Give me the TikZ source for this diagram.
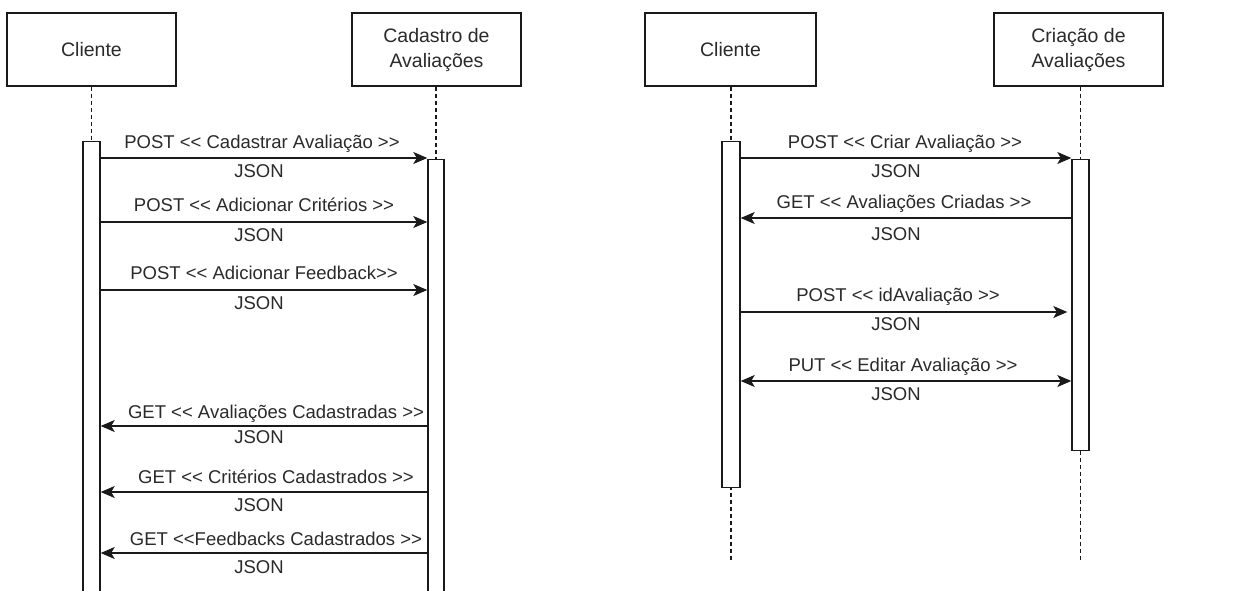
\documentclass[tikz,border=0pt]{standalone}
\usepackage{fontspec}
\setmainfont{Liberation Sans}
\usetikzlibrary{arrows.meta}
\definecolor{txt}{HTML}{2A2A2A}
\definecolor{ln}{HTML}{1A1A1A}
\newcommand\lla{<\kern0pt<}
\newcommand\gga{>\kern0pt>}
\tikzset{
  actorbox/.style={draw=ln, line width=1.4pt, minimum width=169pt, minimum height=73pt, inner sep=0pt, align=center, text=txt, font=\fontsize{19.5}{25}\selectfont},
  actbar/.style={draw=ln, fill=white, line width=1.4pt, inner sep=0pt, anchor=north},
  life/.style={draw=ln, line width=1.2pt, dash pattern=on 4pt off 3pt},
  msg/.style={draw=ln, line width=1.4pt, -{Stealth[length=14pt,width=12pt,inset=3.5pt]}},
  dmsg/.style={draw=ln, line width=1.4pt, {Stealth[length=14pt,width=12pt,inset=3.5pt]}-{Stealth[length=14pt,width=12pt,inset=3.5pt]}},
  lbl/.style={text=txt, inner sep=0pt, anchor=base, font=\fontsize{18.5}{21}\selectfont},
}
\begin{document}
\begin{tikzpicture}[x=1pt,y=-1pt]
\useasboundingbox (0,0) rectangle (1252,590);
\clip (0,0) rectangle (1252,590);
\fill[white] (0,0) rectangle (1252,590);

% ---------- left diagram ----------
\node[actorbox] (cl1) at (91.5,49.5) {Cliente};
\node[actorbox] (cad) at (436.5,49.5) {Cadastro de\\Avaliações};
\coordinate (cl1end) at (91.5,600);
\coordinate (cadend) at (436,600);
\draw[life] (cl1.south) -- (cl1end);
\draw[life] (cad.south -| cadend) -- (cadend);
\node[actbar, minimum width=17pt, minimum height=460pt] (cl1b) at (91.5,141) {};
\node[actbar, minimum width=16pt, minimum height=442pt] (cadb) at (436,159) {};

\draw[msg] (cl1b.east |- 0,158) -- (cadb.west |- 0,158);
\node[lbl] (m1) at (262,148) {POST \lla{} Cadastrar Avaliação \gga};
\node[lbl] (j1) at (259,177) {JSON};

\draw[msg] (cl1b.east |- 0,222) -- (cadb.west |- 0,222);
\node[lbl] (m2) at (264,211) {POST \lla{} Adicionar Critérios \gga};
\node[lbl] (j2) at (259,241) {JSON};

\draw[msg] (cl1b.east |- 0,290) -- (cadb.west |- 0,290);
\node[lbl] (m3) at (264,279) {POST \lla{} Adicionar Feedback\gga};
\node[lbl] (j3) at (259,309) {JSON};

\draw[msg] (cadb.west |- 0,426) -- (cl1b.east |- 0,426);
\node[lbl] (m4) at (276,418) {GET \lla{} Avaliações Cadastradas \gga};
\node[lbl] (j4) at (259,443) {JSON};

\draw[msg] (cadb.west |- 0,492) -- (cl1b.east |- 0,492);
\node[lbl] (m5) at (276,483) {GET \lla{} Critérios Cadastrados \gga};
\node[lbl] (j5) at (259,511) {JSON};

\draw[msg] (cadb.west |- 0,553) -- (cl1b.east |- 0,553);
\node[lbl] (m6) at (276,545) {GET \lla Feedbacks Cadastrados \gga};
\node[lbl] (j6) at (259,573) {JSON};

% ---------- right diagram ----------
\node[actorbox, minimum width=171pt] (cl2) at (730.5,49.5) {Cliente};
\node[actorbox] (cri) at (1078.5,49.5) {Criação de\\Avaliações};
\coordinate (cl2end) at (731,560);
\coordinate (criend) at (1080.5,560);
\draw[life] (cl2.south -| cl2end) -- (cl2end);
\draw[life] (cri.south -| criend) -- (criend);
\node[actbar, minimum width=18pt, minimum height=346pt] (cl2b) at (731,141) {};
\node[actbar, minimum width=17pt, minimum height=291pt] (crib) at (1080.5,159) {};

\draw[msg] (cl2b.east |- 0,158) -- (crib.west |- 0,158);
\node[lbl] (n1) at (905,148) {POST \lla{} Criar Avaliação \gga};
\node[lbl] (k1) at (896,177) {JSON};

\draw[msg] (crib.west |- 0,218) -- (cl2b.east |- 0,218);
\node[lbl] (n2) at (904,208) {GET \lla{} Avaliações Criadas \gga};
\node[lbl] (k2) at (896,240) {JSON};

\draw[msg, shorten >=4pt] (cl2b.east |- 0,312) -- (crib.west |- 0,312);
\node[lbl] (n3) at (898,301) {POST \lla{} idAvaliação \gga};
\node[lbl] (k3) at (896,330) {JSON};

\draw[dmsg] (cl2b.east |- 0,381) -- (crib.west |- 0,381);
\node[lbl] (n4) at (903,371) {PUT \lla{} Editar Avaliação \gga};
\node[lbl] (k4) at (896,400) {JSON};
\end{tikzpicture}
\end{document}
